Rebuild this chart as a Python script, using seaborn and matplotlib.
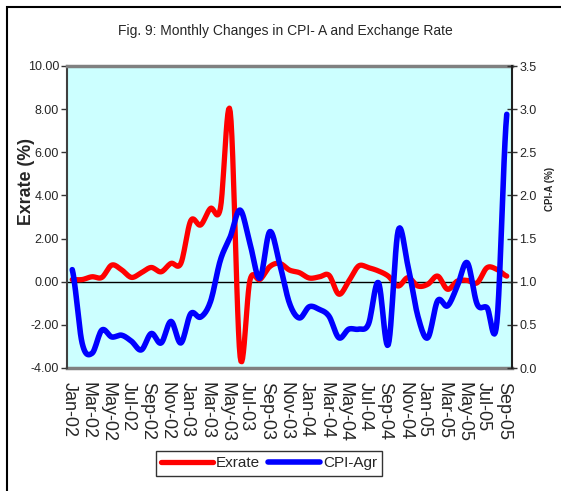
import numpy as np
import pandas as pd
import seaborn as sns
import matplotlib.pyplot as plt
from matplotlib.lines import Line2D
from matplotlib.transforms import ScaledTranslation

# monthly categories Jan-02 .. Sep-05
months = list(pd.date_range('2002-01-01', periods=45, freq='MS').strftime('%b-%y'))

# exchange rate, monthly change (%), left axis
exrate = [0.10, 0.10, 0.23, 0.20, 0.77, 0.55, 0.20, 0.42, 0.66, 0.46,
          0.85, 0.85, 2.83, 2.63, 3.40, 3.40, 7.88, -3.48, 0.08, 0.10,
          0.70, 0.85, 0.54, 0.42, 0.17, 0.22, 0.30, -0.58, 0.03, 0.73,
          0.65, 0.50, 0.26, -0.20, 0.19, -0.20, -0.12, 0.26, -0.35, 0.03,
          0.06, -0.05, 0.65, 0.57, 0.26]

# CPI agriculture, monthly change (%), right axis
cpi_agr = [1.14, 0.29, 0.17, 0.44, 0.36, 0.38, 0.31, 0.21, 0.40, 0.29,
           0.54, 0.29, 0.63, 0.59, 0.77, 1.25, 1.52, 1.83, 1.44, 1.04,
           1.58, 1.21, 0.75, 0.58, 0.71, 0.68, 0.60, 0.35, 0.45, 0.45,
           0.51, 0.99, 0.27, 1.59, 1.18, 0.60, 0.35, 0.78, 0.72, 0.95,
           1.22, 0.74, 0.70, 0.53, 2.94]

left_ticks = [-4, -2, 0, 2, 4, 6, 8, 10]
right_ticks = [0.0, 0.5, 1.0, 1.5, 2.0, 2.5, 3.0, 3.5]


def smooth(y, n=12):
    # excel style smoothed line (bezier through the points)
    y = np.asarray(y, dtype=float)
    xs, ys = [], []
    m = len(y)
    for i in range(m - 1):
        p0 = y[max(i - 1, 0)]
        p1, p2 = y[i], y[i + 1]
        p3 = y[min(i + 2, m - 1)]
        c1 = p1 + (p2 - p0) / 6
        c2 = p2 - (p3 - p1) / 6
        t = np.linspace(0, 1, n, endpoint=(i == m - 2))
        ys.append((1 - t) ** 3 * p1 + 3 * (1 - t) ** 2 * t * c1 + 3 * (1 - t) * t ** 2 * c2 + t ** 3 * p2)
        xs.append(i + t)
    return np.concatenate(xs), np.concatenate(ys)


sns.set_style('white')
plt.rcParams['font.family'] = ['Liberation Sans', 'DejaVu Sans']

fig = plt.figure(figsize=(5.61, 4.91), dpi=100)
ax = fig.add_axes([67.3 / 561, 1 - 368 / 491, 444.4 / 561, 302 / 491])
ax2 = ax.twinx()

ax.set_facecolor('#CCFFFF')
ax2.patch.set_visible(False)

# outer chart border (only left and top visible in the crop)
fig.add_artist(plt.Rectangle((6.5 / 561, -0.1), 1.2, 1.1 - 6.5 / 491,
                             transform=fig.transFigure, fill=False,
                             edgecolor='black', linewidth=1.5))

xr, yr = smooth(exrate)
sns.lineplot(x=xr, y=yr, ax=ax, color='#FF0000', linewidth=3.8, sort=False,
             legend=False, zorder=3)
xb, yb = smooth(cpi_agr)
sns.lineplot(x=xb, y=yb, ax=ax2, color='#0000FF', linewidth=4.0, sort=False,
             legend=False, zorder=3)

ax.set_xlim(-0.5, len(months) - 0.5)
ax.set_ylim(-4, 10)
ax2.set_ylim(0, 3.5)

# category axis crosses at 0 with tick marks between categories
ax.spines['bottom'].set_position(('data', 0))
ax.spines['bottom'].set_color('black')
ax.spines['bottom'].set_linewidth(1.0)
ax.spines['bottom'].set_zorder(2)
ax.set_xticks(np.arange(-0.5, len(months), 2))
ax.tick_params(axis='x', direction='out', length=4, width=1, color='#333333',
               labelbottom=False)

sec = ax.secondary_xaxis('bottom')
sec.set_xticks(range(0, len(months), 2))
sec.set_xticklabels(months[::2], rotation=-90, fontsize=13)
sec.tick_params(length=0, pad=10)
sec.spines['bottom'].set_color('#808080')
sec.spines['bottom'].set_linewidth(2.5)
shift = ScaledTranslation(-3.5 / 100, 0, fig.dpi_scale_trans)
for lbl in sec.get_xticklabels():
    lbl.set_transform(lbl.get_transform() + shift)

ax.spines['top'].set_color('#808080')
ax.spines['top'].set_linewidth(2.5)
ax.spines['left'].set_color('#404040')
ax.spines['left'].set_linewidth(1.5)
ax.spines['right'].set_visible(False)
for s in ['top', 'bottom', 'left']:
    ax2.spines[s].set_visible(False)
ax2.spines['right'].set_color('#202020')
ax2.spines['right'].set_linewidth(1.5)

ax.set_yticks(left_ticks)
ax.set_yticklabels([f'{v:.2f}' for v in left_ticks], fontsize=9)
ax.tick_params(axis='y', direction='out', length=4, width=1, pad=2,
               color='#333333', left=True)
ax2.set_yticks(right_ticks)
ax2.set_yticklabels([f'{v:.1f}' for v in right_ticks], fontsize=9)
ax2.tick_params(axis='y', direction='inout', length=7, width=1, pad=2,
                color='#333333', right=True)

ax.set_ylabel('Exrate (%)', fontsize=12.8, fontweight='bold')
ax.yaxis.set_label_coords(-0.073, 0.6175)
ax2.set_ylabel('CPI-A (%)', fontsize=7, fontweight='bold')
ax2.yaxis.set_label_coords(1.074, 0.593)

fig.text(0.508, 1 - 31 / 491, 'Fig. 9: Monthly Changes in CPI- A and Exchange Rate',
         ha='center', va='center', fontsize=10)

handles = [Line2D([], [], color='#FF0000', linewidth=3.8),
           Line2D([], [], color='#0000FF', linewidth=4.0)]
leg = fig.legend(handles, ['Exrate', 'CPI-Agr'], loc='center',
                 bbox_to_anchor=(269 / 561, 1 - 463.3 / 491), ncol=2,
                 fontsize=11, frameon=True, fancybox=False, handlelength=3.4,
                 handletextpad=0.2, columnspacing=0.5, borderpad=0.35,
                 borderaxespad=0)
leg.get_frame().set_edgecolor('black')
leg.get_frame().set_linewidth(1.0)

fig.savefig('out.png', dpi=100)
